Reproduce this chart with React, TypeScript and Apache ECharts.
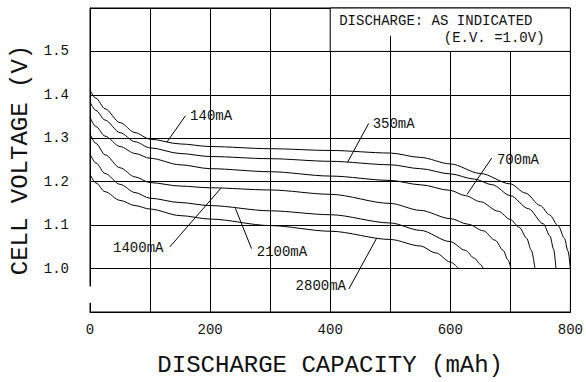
import React, { useEffect, useRef } from "react";
import * as echarts from "echarts";

// ---- data (capacity in mAh, voltage in V) ----
const cap140 = [0, 10, 25, 50, 75, 100, 150, 200, 300, 400, 500, 550, 600, 650, 700, 725, 750, 765, 780, 790, 796, 800];
const volt140 = [1.411, 1.392, 1.368, 1.336, 1.313, 1.298, 1.287, 1.281, 1.276, 1.272, 1.266, 1.256, 1.241, 1.219, 1.195, 1.174, 1.145, 1.124, 1.098, 1.07, 1.04, 1.0];

const cap350 = [0, 10, 25, 50, 75, 100, 150, 200, 300, 400, 500, 550, 600, 640, 670, 700, 730, 755, 766, 772, 776];
const volt350 = [1.383, 1.364, 1.342, 1.313, 1.292, 1.278, 1.265, 1.258, 1.253, 1.247, 1.239, 1.23, 1.218, 1.206, 1.193, 1.168, 1.138, 1.103, 1.075, 1.045, 1.0];

const cap700 = [0, 10, 25, 50, 75, 100, 150, 200, 300, 400, 500, 550, 600, 625, 650, 680, 700, 715, 727, 735, 741];
const volt700 = [1.348, 1.327, 1.305, 1.281, 1.265, 1.254, 1.239, 1.23, 1.223, 1.213, 1.203, 1.193, 1.18, 1.168, 1.154, 1.132, 1.113, 1.095, 1.07, 1.042, 1.0];

const cap1400 = [0, 10, 25, 50, 75, 100, 150, 200, 300, 400, 500, 550, 600, 630, 655, 675, 688, 696, 701];
const volt1400 = [1.31, 1.288, 1.262, 1.232, 1.211, 1.198, 1.19, 1.186, 1.181, 1.171, 1.15, 1.134, 1.115, 1.102, 1.087, 1.065, 1.042, 1.02, 1.0];

const cap2100 = [0, 10, 25, 50, 75, 100, 150, 200, 300, 400, 500, 550, 600, 625, 640, 650, 655];
const volt2100 = [1.264, 1.243, 1.219, 1.194, 1.175, 1.162, 1.152, 1.145, 1.133, 1.124, 1.105, 1.088, 1.062, 1.042, 1.024, 1.01, 1.0];

const cap2800 = [0, 10, 25, 50, 75, 100, 150, 200, 300, 400, 500, 550, 576, 600, 614];
const volt2800 = [1.217, 1.197, 1.177, 1.157, 1.145, 1.137, 1.122, 1.114, 1.099, 1.086, 1.067, 1.052, 1.036, 1.015, 1.0];

const curveNames = ["140mA", "350mA", "700mA", "1400mA", "2100mA", "2800mA"];
const curveCaps = [cap140, cap350, cap700, cap1400, cap2100, cap2800];
const curveVolts = [volt140, volt350, volt700, volt1400, volt2100, volt2800];

// label anchor (data coords) and side of the text relative to the anchor
const labelAnchors = [
  [165, 1.352],
  [469, 1.334],
  [676, 1.251],
  [124, 1.048],
  [276, 1.039],
  [428, 0.959],
];
const labelSides = ["right", "right", "right", "left", "right", "left"];

// pointer lines (data coords)
const pointerStarts = [
  [159, 1.352],
  [464, 1.334],
  [669, 1.2545],
  [133, 1.05],
  [242, 1.139],
  [431, 0.953],
];
const pointerEnds = [
  [128, 1.291],
  [429, 1.245],
  [628, 1.171],
  [218, 1.185],
  [269, 1.046],
  [477, 1.069],
];

const noteLines = ["DISCHARGE: AS INDICATED", "(E.V. =1.0V)"];
const noteBox = [[400, 1.5], [800, 1.6]];
const noteDivider = [[500, 1.5], [500, 1.536]];
const noteAnchors = [[415, 1.569], [757, 1.532]];
const noteSides = ["right", "left"];

const axisGap = [0.921, 0.959];

const xTitle = "DISCHARGE CAPACITY (mAh)";
const yTitle = "CELL VOLTAGE (V)";

const FONT = "Liberation Mono";
const INK = "#111";

export default function App() {
  const ref = useRef<HTMLDivElement>(null);

  useEffect(() => {
    if (!ref.current) return;
    const chart = echarts.init(ref.current, undefined, { renderer: "svg" });

    const series: any[] = curveNames.map((name, i) => {
      const s: any = {
        name,
        type: "line",
        data: curveCaps[i].map((c, k) => [c, curveVolts[i][k]]),
        showSymbol: false,
        smooth: 0.3,
        smoothMonotone: "x",
        silent: true,
        lineStyle: { color: "#000", width: 1 },
        markLine: {
          silent: true,
          symbol: ["none", "none"],
          label: { show: false },
          lineStyle: { color: "#000", width: 1, type: "solid" },
          data: [[{ coord: pointerStarts[i] }, { coord: pointerEnds[i] }]],
        },
        markPoint: {
          silent: true,
          symbol: "rect",
          symbolSize: 0,
          data: [
            {
              coord: labelAnchors[i],
              label: {
                show: true,
                position: labelSides[i],
                distance: 1,
                formatter: name,
                color: INK,
                fontFamily: FONT,
                fontSize: 14,
              },
            },
          ],
        },
      };
      if (i === 0) {
        s.markArea = {
          silent: true,
          itemStyle: { color: "#fff", borderColor: "#000", borderWidth: 1 },
          data: [[{ coord: noteBox[0] }, { coord: noteBox[1] }]],
        };
        s.markLine.data.push([{ coord: noteDivider[0] }, { coord: noteDivider[1] }]);
        noteLines.forEach((t, k) => {
          s.markPoint.data.push({
            coord: noteAnchors[k],
            label: {
              show: true,
              position: noteSides[k],
              distance: 0,
              formatter: t,
              color: INK,
              fontFamily: FONT,
              fontSize: 14,
              lineHeight: 14,
            },
          });
        });
      }
      return s;
    });

    chart.setOption({
      animation: false,
      backgroundColor: "#fff",
      grid: {
        left: 88,
        right: 14,
        top: 8,
        bottom: 66,
        show: true,
        borderColor: "#000",
        borderWidth: 1,
      },
      xAxis: {
        type: "value",
        min: 0,
        max: 800,
        interval: 100,
        name: xTitle,
        nameLocation: "middle",
        nameGap: 41,
        nameTextStyle: { fontFamily: FONT, fontSize: 24, color: INK },
        axisLine: { lineStyle: { color: "#000", width: 1 } },
        axisTick: { show: false },
        splitLine: { show: true, lineStyle: { color: "#000", width: 1 } },
        axisLabel: {
          margin: 11,
          fontFamily: FONT,
          fontSize: 14,
          color: INK,
          formatter: (v: number) => (v % 200 === 0 ? String(v) : ""),
        },
      },
      yAxis: {
        type: "value",
        min: 0.9,
        max: 1.6,
        interval: 0.1,
        name: yTitle,
        nameLocation: "middle",
        nameGap: 58,
        nameTextStyle: { fontFamily: FONT, fontSize: 24, color: INK },
        axisLine: { show: true, lineStyle: { color: "#000", width: 1 } },
        axisTick: { show: false },
        splitLine: { show: true, lineStyle: { color: "#000", width: 1 } },
        axisLabel: {
          margin: 21,
          fontFamily: FONT,
          fontSize: 14,
          color: INK,
          formatter: (v: number) => {
            const r = Math.round(v * 10) / 10;
            return r >= 1.0 && r <= 1.5 ? r.toFixed(1) : "";
          },
        },
      },
      series,
    });

    const p1 = chart.convertToPixel({ gridIndex: 0 } as any, [0, axisGap[1]]) as number[];
    const p2 = chart.convertToPixel({ gridIndex: 0 } as any, [0, axisGap[0]]) as number[];
    chart.setOption({
      graphic: [
        {
          type: "rect",
          z: 100,
          shape: { x: p1[0] - 2, y: p1[1], width: 4, height: p2[1] - p1[1] },
          style: { fill: "#fff" },
          silent: true,
        },
      ],
    });

    return () => chart.dispose();
  }, []);

  return (
    <div
      ref={ref}
      style={{ position: "fixed", left: 0, top: 0, width: 586, height: 382, background: "#fff" }}
    />
  );
}
